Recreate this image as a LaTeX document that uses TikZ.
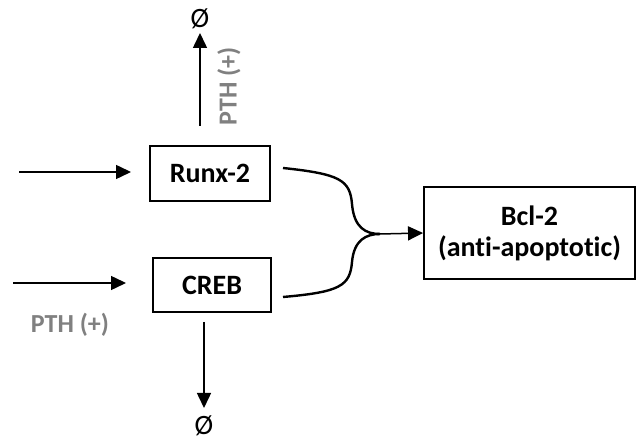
\documentclass[tikz,border=0pt]{standalone}
\usepackage{fontspec}
\setmainfont[Ligatures=NoCommon]{Carlito}
\usetikzlibrary{arrows.meta}
\definecolor{labelgrey}{HTML}{808080}
\begin{document}
\begin{tikzpicture}[x=1pt,y=-1pt,
  box/.style={draw,line width=1.9pt,inner sep=0pt,font=\fontsize{28}{31}\selectfont\bfseries,align=center},
  conn/.style={line width=1.5pt,-{Triangle[length=15pt,width=14pt]}},
  lbl/.style={font=\fontsize{26}{30}\selectfont\bfseries,text=labelgrey},
  empty/.style={font=\fontsize{28}{32}\selectfont,inner sep=0pt}]
\useasboundingbox (0,0) rectangle (638,443);
% boxes
\node[box,minimum width=120pt,minimum height=55pt] (runx) at (210,173.5) {Runx-2};
\node[box,minimum width=118pt,minimum height=54pt] (creb) at (212,285) {CREB};
\node[box,minimum width=211pt,minimum height=92pt] (bcl) at (529.5,233) {Bcl-2\\(anti-apoptotic)};
% inputs from the left
\coordinate (inA) at (19,172);
\coordinate (inB) at (13,283);
\draw[conn] (inA) -- (131,172);
\draw[conn] (inB) -- (126,283);
\node[lbl] (pthB) at (70,325) {PTH (+)};
% degradation arrows
\coordinate (upS) at (200,126);
\node[empty] (phiT) at (200,19) {Ø};
\draw[conn] (upS) -- (200,33);
\node[lbl,rotate=90] (pthT) at (229,86) {PTH (+)};
\coordinate (dnS) at (204,322);
\node[empty] (phiB) at (204,426) {Ø};
\draw[conn] (dnS) -- (204,408);
% merging curves towards Bcl-2
\coordinate (j) at (380,234);
\coordinate (rA) at (283,168);
\coordinate (rB) at (283,297);
\draw[line width=2.4pt] (rA) .. controls (340,174) and (350,180) .. (352,204)
  .. controls (354,228) and (366,234) .. (j);
\draw[line width=2.4pt] (rB) .. controls (340,292) and (350,286) .. (352,262)
  .. controls (354,240) and (366,234) .. (j);
\draw[conn] (j) -- (bcl.west);
\end{tikzpicture}
\end{document}
